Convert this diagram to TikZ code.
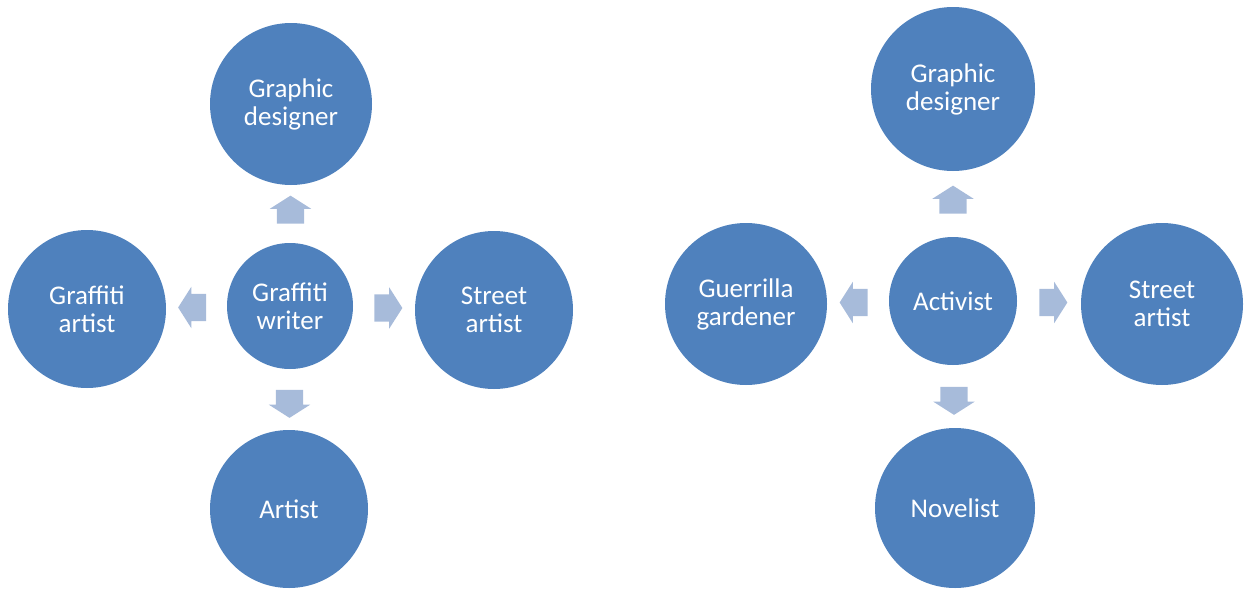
\documentclass[tikz,border=0pt]{standalone}
\usepackage{fontspec}
\setmainfont{Carlito}
\usetikzlibrary{shapes.arrows,calc}
\definecolor{circblue}{RGB}{79,129,189}
\definecolor{arrblue}{RGB}{167,187,218}
\begin{document}
\begin{tikzpicture}[x=1pt,y=-1pt,
  circ/.style={circle, fill=circblue, text=white, inner sep=0pt, align=center,
    font=\fontsize{27}{28}\selectfont},
  blockarrow/.style={single arrow, fill=arrblue, draw=none, inner xsep=0pt,
    inner ysep=13.5pt, minimum height=28pt, single arrow head extend=7pt,
    single arrow tip angle=115, anchor=center}
]
\useasboundingbox (0,0) rectangle (1248,589);
% left diagram
\node[circ, minimum size=126pt] (C1) at (290,306) {Graffiti\\writer};
\node[circ, minimum size=162pt] (T1) at (291,104) {Graphic\\designer};
\node[circ, minimum size=158pt] (L1) at (87,309) {Graffiti\\artist};
\node[circ, minimum size=158pt] (R1) at (494,310) {Street\\artist};
\node[circ, minimum size=158pt] (B1) at (289,509) {Artist};
\node[blockarrow, rotate=90]  (aT1) at ($(C1.north)!0.5!(T1.south)$) {};
\node[blockarrow, rotate=180] (aL1) at ($(C1.west)!0.5!(L1.east)$) {};
\node[blockarrow]             (aR1) at ($(C1.east)!0.5!(R1.west)$) {};
\node[blockarrow, rotate=-90] (aB1) at ($(C1.south)!0.5!(B1.north)$) {};
% right diagram
\node[circ, minimum size=128pt] (C2) at (953,301) {Activist};
\node[circ, minimum size=164pt] (T2) at (953,89) {Graphic\\designer};
\node[circ, minimum size=162pt] (L2) at (746,304) {Guerrilla\\gardener};
\node[circ, minimum size=162pt] (R2) at (1162,304) {Street\\artist};
\node[circ, minimum size=160pt] (B2) at (955,508) {Novelist};
\node[blockarrow, rotate=90]  (aT2) at ($(C2.north)!0.5!(T2.south)$) {};
\node[blockarrow, rotate=180] (aL2) at ($(C2.west)!0.5!(L2.east)$) {};
\node[blockarrow]             (aR2) at ($(C2.east)!0.5!(R2.west)$) {};
\node[blockarrow, rotate=-90] (aB2) at ($(C2.south)!0.5!(B2.north)$) {};
\end{tikzpicture}
\end{document}
